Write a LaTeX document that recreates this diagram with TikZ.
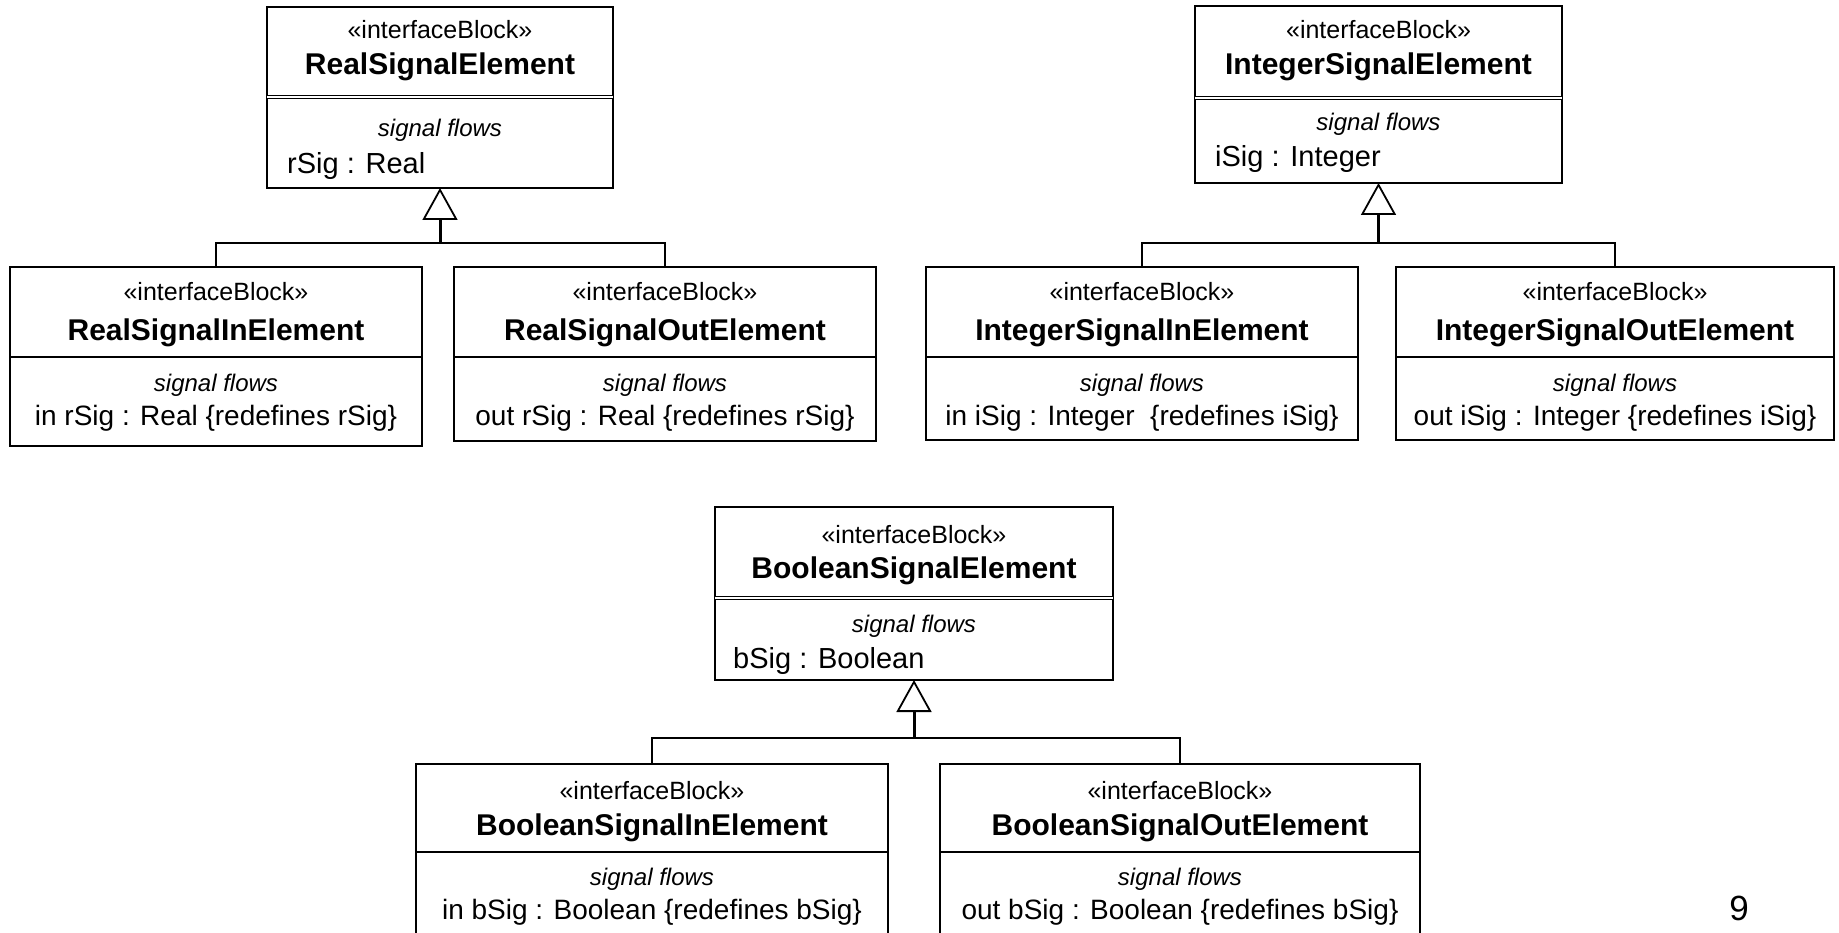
\documentclass[tikz,border=0pt]{standalone}
\usepackage{fontspec}
\setmainfont{Liberation Sans}
\usetikzlibrary{arrows.meta}

\begin{document}
\begin{tikzpicture}[x=1pt,y=-1pt,
  blk/.style={draw, line width=1.8pt, rectangle, anchor=north west, inner sep=0pt, outer sep=0pt},
  sepline/.style={line width=1.8pt},
  dblsep/.style={double, double distance=1.4pt, line width=1.2pt},
  stereo/.style={font=\fontsize{25}{29}\selectfont, inner sep=0pt, anchor=base},
  bname/.style={font=\fontsize{30}{34}\selectfont\bfseries, inner sep=0pt, anchor=base},
  flows/.style={font=\fontsize{24}{28}\selectfont\itshape, inner sep=0pt, anchor=base},
  pattr/.style={font=\fontsize{29}{33}\selectfont, inner sep=0pt, anchor=base west},
  cattr/.style={font=\fontsize{28}{32}\selectfont, inner sep=0pt, anchor=base},
  bus/.style={line width=1.8pt},
  gen/.style={line width=3pt, -{Triangle[open, length=32pt, width=35pt, line width=1.8pt]}}
]
\useasboundingbox (0,0) rectangle (1839,933);
\clip (0,0) rectangle (1839,933);
\fill[white] (0,0) rectangle (1839,933);

% ---------- Real signal family ----------
\node[blk, minimum width=346pt, minimum height=181pt] (realP) at (267,7) {};
\draw[dblsep] (realP.west |- 0,97) -- (realP.east |- 0,97);
\node[stereo] (realPst) at (440,39) {«interfaceBlock»};
\node[bname]  (realPnm) at (440,75) {RealSignalElement};
\node[flows]  (realPsf) at (440,137) {signal flows};
\node[pattr]  (realPat) at (287,174) {rSig : Real};

\node[blk, minimum width=412pt, minimum height=179pt] (realIn) at (10,267) {};
\draw[sepline] (realIn.west |- 0,357) -- (realIn.east |- 0,357);
\node[stereo] (realInst) at (216,301) {«interfaceBlock»};
\node[bname]  (realInnm) at (216,340) {RealSignalInElement};
\node[flows]  (realInsf) at (216,391) {signal flows};
\node[cattr]  (realInat) at (216,425) {in rSig : Real {\{}redefines rSig{\}}};

\node[blk, minimum width=422pt, minimum height=174pt] (realOut) at (454,267) {};
\draw[sepline] (realOut.west |- 0,357) -- (realOut.east |- 0,357);
\node[stereo] (realOutst) at (665,301) {«interfaceBlock»};
\node[bname]  (realOutnm) at (665,340) {RealSignalOutElement};
\node[flows]  (realOutsf) at (665,391) {signal flows};
\node[cattr]  (realOutat) at (665,425) {out rSig : Real {\{}redefines rSig{\}}};

\coordinate (realJ) at (440,243);
\draw[bus] (realIn.north) |- (realJ) -| (realOut.north);
\draw[gen] (realJ) -- (realP.south);

% ---------- Integer signal family ----------
\node[blk, minimum width=367pt, minimum height=177pt] (intP) at (1195,6) {};
\draw[dblsep] (intP.west |- 0,98) -- (intP.east |- 0,98);
\node[stereo] (intPst) at (1378.5,39) {«interfaceBlock»};
\node[bname]  (intPnm) at (1378.5,75) {IntegerSignalElement};
\node[flows]  (intPsf) at (1378.5,131) {signal flows};
\node[pattr]  (intPat) at (1215,167) {iSig : Integer};

\node[blk, minimum width=432pt, minimum height=173pt] (intIn) at (926,267) {};
\draw[sepline] (intIn.west |- 0,357) -- (intIn.east |- 0,357);
\node[stereo] (intInst) at (1142,301) {«interfaceBlock»};
\node[bname]  (intInnm) at (1142,340) {IntegerSignalInElement};
\node[flows]  (intInsf) at (1142,391) {signal flows};
\node[cattr]  (intInat) at (1142,425) {in iSig : Integer \ {\{}redefines iSig{\}}};

\node[blk, minimum width=438pt, minimum height=173pt] (intOut) at (1396,267) {};
\draw[sepline] (intOut.west |- 0,357) -- (intOut.east |- 0,357);
\node[stereo] (intOutst) at (1615,301) {«interfaceBlock»};
\node[bname]  (intOutnm) at (1615,340) {IntegerSignalOutElement};
\node[flows]  (intOutsf) at (1615,391) {signal flows};
\node[cattr]  (intOutat) at (1615,425) {out iSig : Integer {\{}redefines iSig{\}}};

\coordinate (intJ) at (1378.5,243);
\draw[bus] (intIn.north) |- (intJ) -| (intOut.north);
\draw[gen] (intJ) -- (intP.south);

% ---------- Boolean signal family ----------
\node[blk, minimum width=398pt, minimum height=173pt] (boolP) at (715,507) {};
\draw[dblsep] (boolP.west |- 0,598) -- (boolP.east |- 0,598);
\node[stereo] (boolPst) at (914,543) {«interfaceBlock»};
\node[bname]  (boolPnm) at (914,578) {BooleanSignalElement};
\node[flows]  (boolPsf) at (914,632) {signal flows};
\node[pattr]  (boolPat) at (733,668) {bSig : Boolean};

\node[blk, minimum width=472pt, minimum height=181pt] (boolIn) at (416,764) {};
\draw[sepline] (boolIn.west |- 0,852) -- (boolIn.east |- 0,852);
\node[stereo] (boolInst) at (652,799) {«interfaceBlock»};
\node[bname]  (boolInnm) at (652,835) {BooleanSignalInElement};
\node[flows]  (boolInsf) at (652,885) {signal flows};
\node[cattr]  (boolInat) at (652,919) {in bSig : Boolean {\{}redefines bSig{\}}};

\node[blk, minimum width=480pt, minimum height=181pt] (boolOut) at (940,764) {};
\draw[sepline] (boolOut.west |- 0,852) -- (boolOut.east |- 0,852);
\node[stereo] (boolOutst) at (1180,799) {«interfaceBlock»};
\node[bname]  (boolOutnm) at (1180,835) {BooleanSignalOutElement};
\node[flows]  (boolOutsf) at (1180,885) {signal flows};
\node[cattr]  (boolOutat) at (1180,919) {out bSig : Boolean {\{}redefines bSig{\}}};

\coordinate (boolJ) at (914,738);
\draw[bus] (boolIn.north) |- (boolJ) -| (boolOut.north);
\draw[gen] (boolJ) -- (boolP.south);

% page number
\node[font=\fontsize{35}{40}\selectfont, inner sep=0pt, anchor=base] (pagenum) at (1739,920) {9};
\end{tikzpicture}
\end{document}
